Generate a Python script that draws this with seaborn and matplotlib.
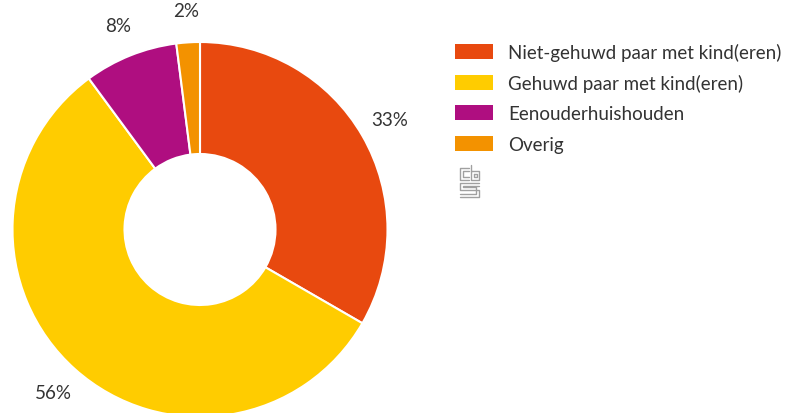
import matplotlib
matplotlib.use("Agg")
import matplotlib.pyplot as plt
import seaborn as sns
from matplotlib.patches import Patch
from matplotlib.lines import Line2D

sns.set_theme(style="white")
plt.rcParams['font.family'] = ['Lato', 'DejaVu Sans']

# data
categorieen = ['Niet-gehuwd paar met kind(eren)', 'Gehuwd paar met kind(eren)',
               'Eenouderhuishouden', 'Overig']
aandeel = [33, 56, 8, 2]
labels_pct = ['33%', '56%', '8%', '2%']
kleuren = ['#E8490F', '#FFCC00', '#AF0E80', '#F39200']

W, H = 786, 414
fig = plt.figure(figsize=(W / 100, H / 100), dpi=100)

# pie-as geplaatst in pixels: middelpunt (200, 230.5), straal 187.5
R = 187.5
L = 1.25
cx, cy = 200, 230.5
size = 2 * L * R
ax = fig.add_axes([(cx - size / 2) / W, (H - cy - size / 2) / H, size / W, size / H])

wedges, teksten = ax.pie(aandeel, labels=labels_pct, colors=kleuren, startangle=90,
                         counterclock=False, radius=1, labeldistance=1.17,
                         wedgeprops=dict(width=1 - 75.5 / R, edgecolor='white', linewidth=1.5),
                         textprops=dict(fontsize=13.5, color='#333333'))
for t in teksten:
    t.set_ha('center')
    t.set_va('center')
ax.set_xlim(-L, L)
ax.set_ylim(-L, L)
ax.set_aspect('equal')
ax.axis('off')

# legenda
fs = 13.5
fs_px = fs * 100 / 72
handles = [Patch(facecolor=k, edgecolor='none') for k in kleuren]
fig.legend(handles, categorieen, loc='upper left', bbox_to_anchor=(455 / W, 1 - 44 / H),
           frameon=False, fontsize=fs, handlelength=38 / fs_px, handleheight=16 / fs_px,
           handletextpad=15 / fs_px, labelspacing=0.70, borderpad=0, borderaxespad=0,
           labelcolor='#333333')

# cbs logo (grijs)
grijs = '#a0a0a0'
def lijn(xs, ys):
    fig.add_artist(Line2D([x / W for x in xs], [1 - y / H for y in ys],
                          color=grijs, lw=1.0))
# c
lijn([469, 460, 460, 469], [169, 169, 181, 181])
lijn([469, 463, 463, 469], [172, 172, 178, 178])
# b
lijn([471, 471, 479, 479, 471], [166, 181, 181, 172, 172])
lijn([474, 474, 477, 477, 474], [175, 178, 178, 175, 175])
# s
lijn([479, 460, 460, 479, 479, 460], [184, 184, 191, 191, 198, 198])
lijn([479, 463, 463, 476, 476, 460], [187, 187, 188, 188, 195, 195])

fig.savefig('out.png', dpi=100)
